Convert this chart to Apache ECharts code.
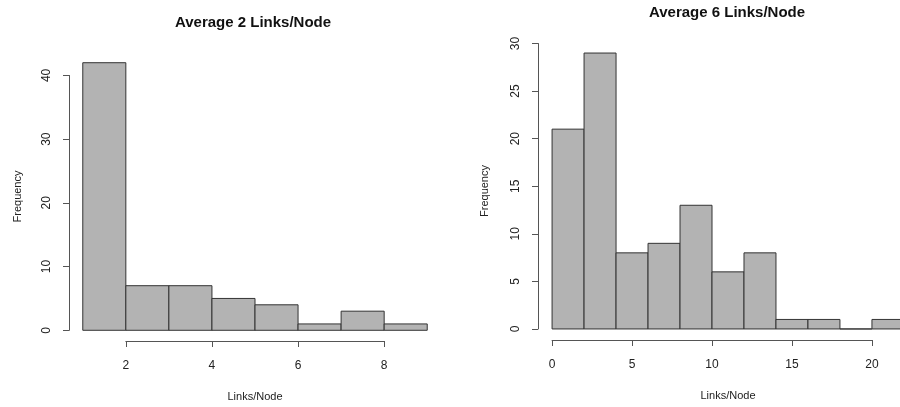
<!DOCTYPE html>
<html>
<head>
<meta charset="utf-8">
<script src="https://cdn.jsdelivr.net/npm/echarts@6/dist/echarts.min.js"></script>
<style>
html,body{margin:0;padding:0;background:#fff;}
#chart{width:900px;height:407px;}
</style>
</head>
<body>
<div id="chart"></div>
<script>
// 左图：平均 2 条链接/节点
var leftTitle = 'Average 2 Links/Node';
var leftBreaks = [1, 2, 3, 4, 5, 6, 7, 8, 9];
var leftCounts = [42, 7, 7, 5, 4, 1, 3, 1];
var leftXTicks = [2, 4, 6, 8];
var leftYTicks = [0, 10, 20, 30, 40];

// 右图：平均 6 条链接/节点
var rightTitle = 'Average 6 Links/Node';
var rightBreaks = [0, 2, 4, 6, 8, 10, 12, 14, 16, 18, 20, 22];
var rightCounts = [21, 29, 8, 9, 13, 6, 8, 1, 1, 0, 1];
var rightXTicks = [0, 5, 10, 15, 20];
var rightYTicks = [0, 5, 10, 15, 20, 25, 30];

var FONT = '"Liberation Sans", Arial, sans-serif';
var TXT = '#222';
var AX = '#555';
var W = 900;

// 绘图区域（像素）
var panels = [
    {title: leftTitle, breaks: leftBreaks, counts: leftCounts, xt: leftXTicks, yt: leftYTicks,
     box: {l: 69, r: 441, t: 52, b: 341}, titleTop: 15, titleX: 253, yGap: 46},
    {title: rightTitle, breaks: rightBreaks, counts: rightCounts, xt: rightXTicks, yt: rightYTicks,
     box: {l: 538, r: 918, t: 42, b: 340}, titleTop: 5, titleX: 727, yGap: 48}
];

var grids = [], xAxes = [], yAxes = [], series = [], titles = [];

for (var p = 0; p < panels.length; p++) {
    var P = panels[p];
    // R 风格：范围两端各扩展 4%
    var x0 = P.breaks[0], x1 = P.breaks[P.breaks.length - 1];
    var ymax = Math.max.apply(null, P.counts);
    var xmin = x0 - (x1 - x0) * 0.04, xmax = x1 + (x1 - x0) * 0.04;
    var ymin = -ymax * 0.04, ymaxE = ymax * 1.04;
    var b = P.box;
    var sx = (b.r - b.l) / (xmax - xmin), sy = (b.b - b.t) / (ymaxE - ymin);
    var px = function (v) { return b.l + (v - xmin) * sx; };
    var py = function (v) { return b.b - (v - ymin) * sy; };
    // 超出画布的部分被裁掉
    var gr = b.r, gxmax = xmax;
    if (gr > W) { gr = W; gxmax = xmin + (W - b.l) / sx; }

    // 数据网格
    var gi = grids.length;
    grids.push({left: b.l, top: b.t, width: gr - b.l, height: b.b - b.t});
    xAxes.push({gridIndex: gi, type: 'value', min: xmin, max: gxmax,
        axisLine: {show: false}, axisTick: {show: false}, axisLabel: {show: false}, splitLine: {show: false},
        name: 'Links/Node', nameLocation: 'middle', nameGap: 50,
        nameTextStyle: {fontFamily: FONT, fontSize: 11, color: TXT,
            padding: [0, 0, 0, (b.r - gr)]}});
    yAxes.push({gridIndex: gi, type: 'value', min: ymin, max: ymaxE,
        axisLine: {show: false}, axisTick: {show: false}, axisLabel: {show: false}, splitLine: {show: false},
        name: 'Frequency', nameLocation: 'middle', nameGap: P.yGap,
        nameTextStyle: {fontFamily: FONT, fontSize: 11, color: TXT}});

    var rows = [];
    for (var i = 0; i < P.counts.length; i++) {
        rows.push([P.breaks[i], P.breaks[i + 1], P.counts[i]]);
    }
    series.push({
        type: 'custom', xAxisIndex: gi, yAxisIndex: gi, data: rows, clip: false,
        renderItem: function (params, api) {
            var a = api.coord([api.value(0), api.value(2)]);
            var c = api.coord([api.value(1), 0]);
            return {type: 'rect',
                shape: {x: a[0], y: a[1], width: c[0] - a[0], height: c[1] - a[1]},
                style: {fill: '#b3b3b3', stroke: '#333', lineWidth: 1}};
        }
    });

    // 坐标轴网格（R 风格：轴线只覆盖刻度范围）
    var ai = grids.length;
    var tx0 = P.xt[0], tx1 = P.xt[P.xt.length - 1];
    var ty0 = P.yt[0], ty1 = P.yt[P.yt.length - 1];
    grids.push({left: px(tx0), top: py(ty1), width: px(tx1) - px(tx0), height: py(ty0) - py(ty1)});
    xAxes.push({gridIndex: ai, type: 'value', min: tx0, max: tx1, interval: P.xt[1] - P.xt[0],
        offset: b.b - py(ty0),
        axisLine: {show: true, onZero: false, lineStyle: {color: AX, width: 1}},
        axisTick: {show: true, length: 6, lineStyle: {color: AX}},
        axisLabel: {margin: 19, fontFamily: FONT, fontSize: 12, color: TXT},
        splitLine: {show: false}});
    yAxes.push({gridIndex: ai, type: 'value', min: ty0, max: ty1, interval: P.yt[1] - P.yt[0],
        offset: px(tx0) - b.l,
        axisLine: {show: true, onZero: false, lineStyle: {color: AX, width: 1}},
        axisTick: {show: true, length: 6, lineStyle: {color: AX}},
        axisLabel: {margin: 16, rotate: 90, fontFamily: FONT, fontSize: 12, color: TXT},
        splitLine: {show: false}});

    titles.push({text: P.title, left: P.titleX, top: P.titleTop, textAlign: 'center', padding: 0,
        textStyle: {fontFamily: FONT, fontSize: 15, fontWeight: 'bold', color: '#111'}});
}

var myChart = echarts.init(document.getElementById('chart'));
var option = {
    animation: false,
    backgroundColor: '#fff',
    title: titles,
    grid: grids,
    xAxis: xAxes,
    yAxis: yAxes,
    series: series
};
myChart.setOption(option);
</script>
</body>
</html>
